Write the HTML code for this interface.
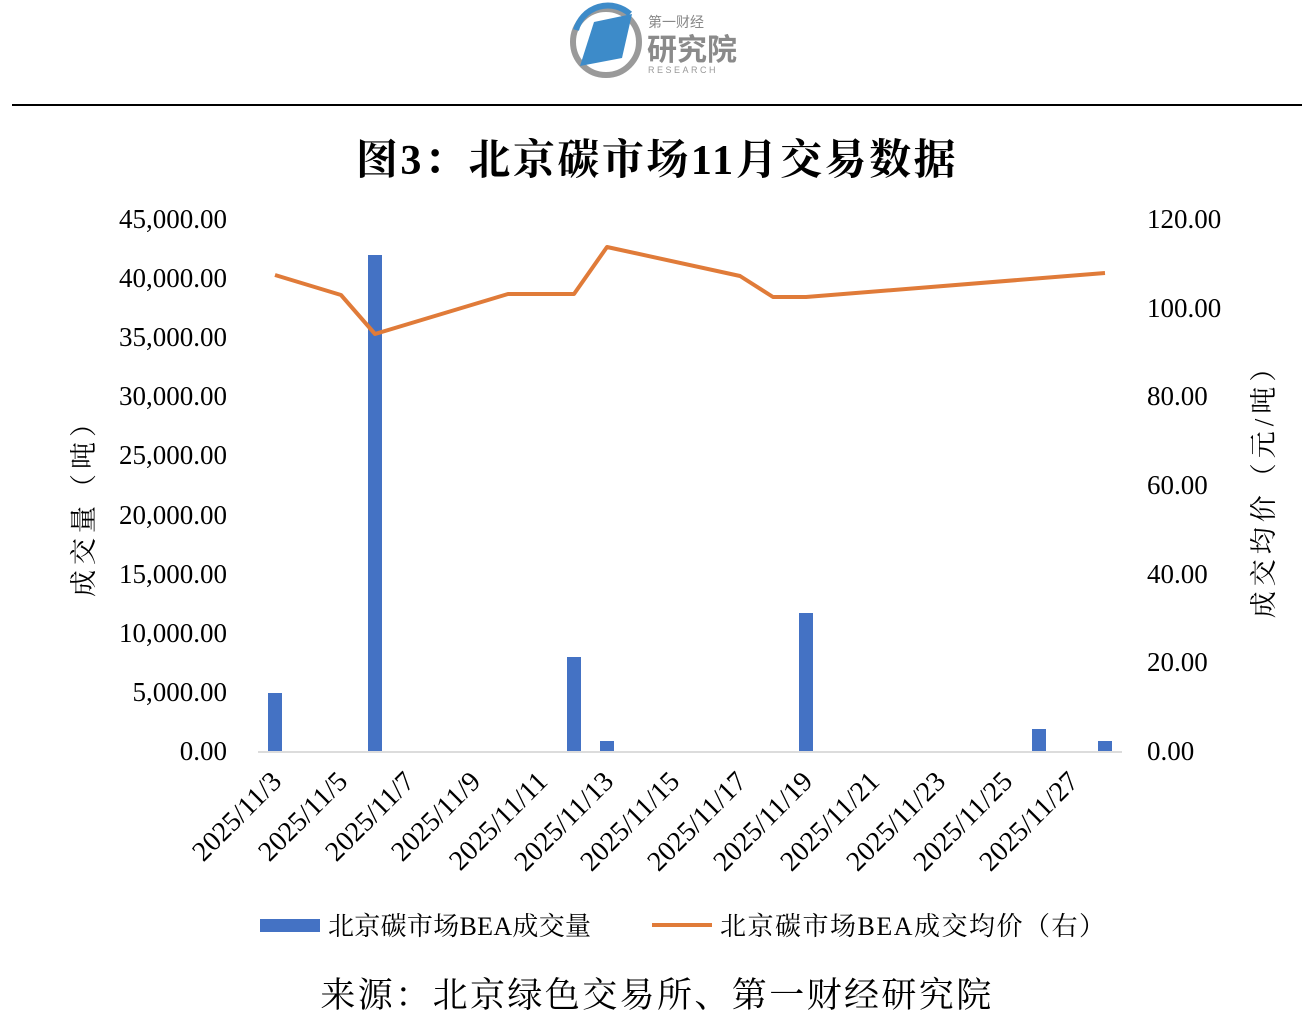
<!DOCTYPE html>
<html><head><meta charset="utf-8"><style>
html,body{margin:0;padding:0;background:#fff;}
svg{display:block;}
</style></head><body>
<svg width="1314" height="1018" viewBox="0 0 1314 1018" xmlns="http://www.w3.org/2000/svg" font-family="'Liberation Serif','Noto Serif CJK SC',serif">
<!-- logo -->
<circle cx="606" cy="42" r="33" fill="none" stroke="#9a9a9a" stroke-width="6"/>
<path d="M576 30 A33 33 0 0 1 630 14" fill="none" stroke="#3d8bc9" stroke-width="6"/>
<polygon points="594,22 632,14 622,58 580,66" fill="#3d8bc9"/>
<text x="648" y="27" font-family="'Noto Sans CJK SC',sans-serif" font-size="14" fill="#888">第一财经</text>
<text x="647" y="60" font-family="'Noto Sans CJK SC',sans-serif" font-size="30" font-weight="bold" fill="#8a8a8a">研究院</text>
<text x="648" y="73" font-family="'Liberation Sans',sans-serif" font-size="9" fill="#999" letter-spacing="2.5">RESEARCH</text>
<line x1="12" y1="105" x2="1302" y2="105" stroke="#000" stroke-width="2"/>
<text x="657" y="174" text-anchor="middle" font-size="42" font-weight="bold" letter-spacing="2.5">图3：北京碳市场11月交易数据</text>
<!-- left ticks -->
<g font-size="27" text-anchor="end">
<text x="227" y="760">0.00</text>
<text x="227" y="701">5,000.00</text>
<text x="227" y="642">10,000.00</text>
<text x="227" y="583">15,000.00</text>
<text x="227" y="524">20,000.00</text>
<text x="227" y="464">25,000.00</text>
<text x="227" y="405">30,000.00</text>
<text x="227" y="346">35,000.00</text>
<text x="227" y="287">40,000.00</text>
<text x="227" y="228">45,000.00</text>
</g>
<g font-size="27">
<text x="1147" y="760">0.00</text>
<text x="1147" y="671">20.00</text>
<text x="1147" y="583">40.00</text>
<text x="1147" y="494">60.00</text>
<text x="1147" y="405">80.00</text>
<text x="1147" y="317">100.00</text>
<text x="1147" y="228">120.00</text>
</g>
<text transform="translate(93,501) rotate(-90)" text-anchor="middle" font-size="27" letter-spacing="5">成交量（吨）</text>
<text transform="translate(1273,484) rotate(-90)" text-anchor="middle" font-size="27" letter-spacing="5">成交均价（元/吨）</text>
<line x1="258" y1="752" x2="1122" y2="752" stroke="#d0d0d0" stroke-width="1.5"/>
<!-- bars -->
<g fill="#4472c4">
<rect x="268" y="693" width="14" height="58"/>
<rect x="368" y="255" width="14" height="496"/>
<rect x="567" y="657" width="14" height="94"/>
<rect x="600" y="741" width="14" height="10"/>
<rect x="799" y="613" width="14" height="138"/>
<rect x="1032" y="729" width="14" height="22"/>
<rect x="1098" y="741" width="14" height="10"/>
</g>
<polyline fill="none" stroke="#e07b39" stroke-width="4" stroke-linejoin="round" points="275,275 341,295 375,334 508,294 574,294 607,247 740,276 773,297 806,297 1105,273"/>
<!-- x labels -->
<g font-size="28" text-anchor="end">
<text transform="translate(283,783) rotate(-45)">2025/11/3</text>
<text transform="translate(349,783) rotate(-45)">2025/11/5</text>
<text transform="translate(416,783) rotate(-45)">2025/11/7</text>
<text transform="translate(482,783) rotate(-45)">2025/11/9</text>
<text transform="translate(549,783) rotate(-45)">2025/11/11</text>
<text transform="translate(615,783) rotate(-45)">2025/11/13</text>
<text transform="translate(681,783) rotate(-45)">2025/11/15</text>
<text transform="translate(748,783) rotate(-45)">2025/11/17</text>
<text transform="translate(814,783) rotate(-45)">2025/11/19</text>
<text transform="translate(881,783) rotate(-45)">2025/11/21</text>
<text transform="translate(947,783) rotate(-45)">2025/11/23</text>
<text transform="translate(1014,783) rotate(-45)">2025/11/25</text>
<text transform="translate(1080,783) rotate(-45)">2025/11/27</text>
</g>
<!-- legend -->
<rect x="260" y="919" width="60" height="13" fill="#4472c4"/>
<text x="328" y="935" font-size="26" letter-spacing="0.3">北京碳市场BEA成交量</text>
<line x1="652" y1="925" x2="712" y2="925" stroke="#e07b39" stroke-width="4"/>
<text x="720" y="935" font-size="26" letter-spacing="1.5">北京碳市场BEA成交均价（右）</text>
<text x="657" y="1007" text-anchor="middle" font-size="35" letter-spacing="2.4">来源：北京绿色交易所、第一财经研究院</text>
</svg>
</body></html>
